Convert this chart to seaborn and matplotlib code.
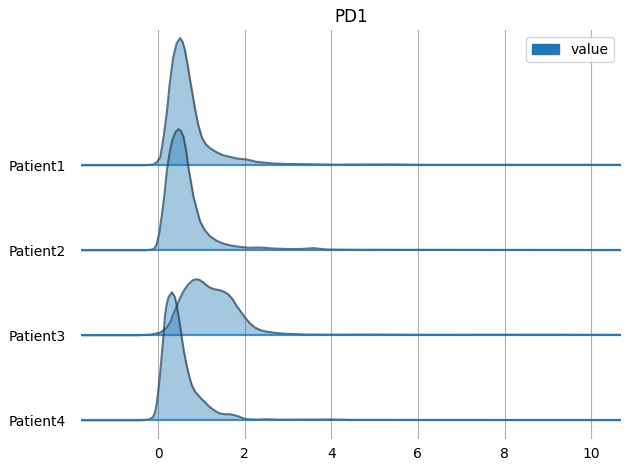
import numpy as np
import matplotlib
matplotlib.use("Agg")
import matplotlib.pyplot as plt
import matplotlib.patches as mpatches
import seaborn as sns

# patients (top to bottom)
patients = ["Patient1", "Patient2", "Patient3", "Patient4"]

# density curves: x values and density per patient
p1_x = [-1.78, -0.3, -0.12, -0.03, 0.05, 0.12, 0.2, 0.27, 0.35, 0.43, 0.51, 0.57, 0.62, 0.68, 0.74, 0.8,
        0.86, 0.93, 1.01, 1.1, 1.2, 1.35, 1.5, 1.82, 2.05, 2.28, 2.66, 3.0, 3.4, 4.0, 5.4, 6.0, 10.69]
p1_y = [0, 0, 0.006, 0.035, 0.094, 0.306, 0.612, 0.965, 1.271, 1.435, 1.494, 1.447, 1.353, 1.188, 1.0, 0.824,
        0.647, 0.471, 0.329, 0.247, 0.2, 0.153, 0.118, 0.079, 0.067, 0.039, 0.02, 0.014, 0.012, 0.006,
        0.009, 0.004, 0.004]

p2_x = [-1.78, -0.3, -0.15, -0.08, -0.03, 0.03, 0.09, 0.15, 0.2, 0.26, 0.32, 0.4, 0.47, 0.53, 0.59, 0.65,
        0.7, 0.76, 0.82, 0.9, 0.97, 1.08, 1.2, 1.35, 1.5, 1.7, 1.9, 2.1, 2.28, 2.45, 2.66, 3.0, 3.3,
        3.6, 3.9, 4.5, 10.69]
p2_y = [0, 0, 0.006, 0.025, 0.071, 0.212, 0.424, 0.671, 0.929, 1.129, 1.282, 1.388, 1.424, 1.4, 1.329, 1.165,
        0.976, 0.8, 0.624, 0.471, 0.341, 0.235, 0.165, 0.112, 0.079, 0.053, 0.039, 0.029, 0.032, 0.029,
        0.02, 0.014, 0.015, 0.024, 0.008, 0.005, 0.002]

p3_x = [-1.78, -0.5, -0.18, 0.05, 0.2, 0.28, 0.35, 0.43, 0.51, 0.6, 0.7, 0.8, 0.89, 0.97, 1.05, 1.12,
        1.2, 1.3, 1.43, 1.52, 1.62, 1.72, 1.82, 1.92, 2.01, 2.12, 2.24, 2.37, 2.51, 2.7, 2.9, 3.4, 4.0,
        5.0, 6.0, 9.0, 10.69]
p3_y = [0, 0, 0.006, 0.031, 0.089, 0.153, 0.247, 0.341, 0.442, 0.529, 0.6, 0.647, 0.659, 0.647, 0.619,
        0.588, 0.56, 0.541, 0.529, 0.512, 0.482, 0.424, 0.341, 0.271, 0.207, 0.141, 0.089, 0.059, 0.042,
        0.028, 0.019, 0.008, 0.006, 0.008, 0.005, 0.006, 0.004]

p4_x = [-1.78, -0.4, -0.22, -0.12, -0.07, -0.03, 0.0, 0.05, 0.09, 0.13, 0.16, 0.2, 0.24, 0.32, 0.39, 0.43, 0.47,
        0.51, 0.55, 0.6, 0.66, 0.72, 0.78, 0.85, 0.93, 1.01, 1.09, 1.16, 1.24, 1.33, 1.43, 1.55, 1.66,
        1.75, 1.85, 1.95, 2.05, 2.3, 2.5, 2.8, 4.0, 4.5, 10.69]
p4_y = [0, 0, 0.008, 0.035, 0.094, 0.2, 0.329, 0.565, 0.8, 1.035, 1.235, 1.365, 1.447, 1.506, 1.447, 1.353, 1.235,
        1.106, 0.965, 0.8, 0.647, 0.518, 0.412, 0.341, 0.294, 0.247, 0.212, 0.171, 0.138, 0.106, 0.079,
        0.071, 0.071, 0.061, 0.047, 0.026, 0.012, 0.007, 0.012, 0.006, 0.009, 0.004, 0.002]

curves = [(p1_x, p1_y), (p2_x, p2_y), (p3_x, p3_y), (p4_x, p4_y)]
x_ticks = [0, 2, 4, 6, 8, 10]

fig, ax = plt.subplots(figsize=(6.3, 4.69), dpi=100)
fig.subplots_adjust(left=0.1286, right=0.9857, bottom=0.064, top=0.936)

fill_col = "tab:blue"
for i, (name, (xs, ys)) in enumerate(zip(patients, curves)):
    base = -i
    xs = np.array(xs)
    ys = np.array(ys) + base
    z = 3 + 4 * i
    ax.fill_between(xs, base, ys, color=fill_col, alpha=0.4, lw=0, zorder=z)
    sns.lineplot(x=xs, y=ys, ax=ax, color="#1f3a52", alpha=0.7, lw=1.5, sort=False, zorder=z + 1)
    ax.axhline(base, color=fill_col, alpha=0.75, lw=1.6, zorder=z + 2)

ax.set_xlim(-1.78, 10.69)
ax.set_ylim(-3.22, 1.59)
ax.set_xticks(x_ticks)
ax.set_yticks([-i for i in range(len(patients))])
ax.set_yticklabels(patients)
ax.tick_params(axis="y", length=0, pad=11)
ax.tick_params(axis="x", length=0, pad=6)
ax.grid(axis="x", color="#b0b0b0", lw=0.8)
ax.set_axisbelow(True)
for s in ax.spines.values():
    s.set_visible(False)

ax.set_title("PD1")
ax.legend(handles=[mpatches.Patch(color=fill_col, label="value")], loc="upper right")

plt.savefig("out.png")
